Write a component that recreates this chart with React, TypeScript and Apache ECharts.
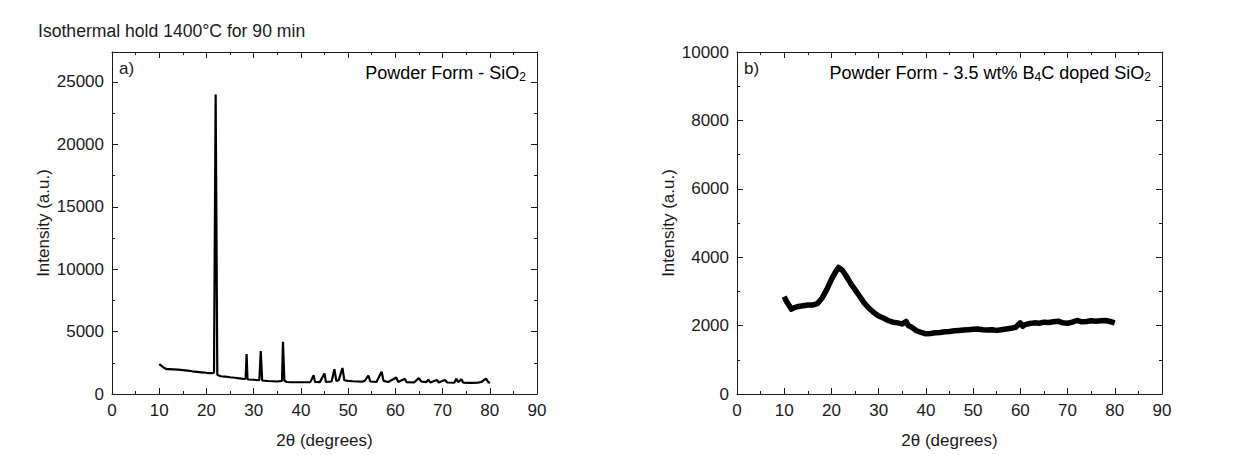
import React, { useEffect, useRef } from "react";
import * as echarts from "echarts";

const titleText = "Isothermal hold 1400°C for 90 min";
const xTicks = [0, 10, 20, 30, 40, 50, 60, 70, 80, 90];

// Panel a) SiO2 powder
const sio2Theta = [10, 10.5, 11, 11.5, 12, 13, 14, 15, 16, 17, 18, 19, 20, 21, 21.6, 21.95, 22.3, 23, 24, 25, 26, 27, 28, 28.3, 28.5, 28.7, 29, 30, 31.2, 31.5, 31.8, 33, 35, 36.0, 36.2, 36.5, 37, 38, 40, 42, 42.7, 43, 44, 45, 45.3, 46.5, 47.1, 47.5, 48, 48.8, 49.2, 50, 51, 52, 53, 53.5, 54.3, 54.7, 56, 57.1, 57.5, 58.5, 60.2, 60.6, 62, 62.4, 64, 65, 65.5, 66.5, 67, 67.4, 68.8, 69.2, 70.5, 71, 72.5, 72.9, 73.3, 74, 74.4, 76, 77.5, 78.2, 79.2, 79.6, 80];
const sio2Intensity = [2400, 2250, 2100, 2000, 2000, 1980, 1950, 1920, 1870, 1820, 1780, 1740, 1700, 1680, 1700, 24000, 1550, 1420, 1390, 1340, 1300, 1250, 1200, 1230, 3200, 1180, 1160, 1140, 1100, 3450, 1080, 1040, 1000, 1050, 4180, 1080, 960, 940, 940, 950, 1500, 960, 950, 1650, 960, 1000, 1980, 1050, 1100, 2080, 1100, 1050, 1020, 1000, 990, 1050, 1480, 1000, 960, 1780, 1050, 960, 1320, 960, 1230, 940, 930, 1280, 1000, 950, 1150, 920, 1120, 920, 1120, 920, 900, 1220, 960, 1170, 900, 890, 910, 960, 1230, 1000, 880];

// Panel b) 3.5 wt% B4C doped SiO2 powder
const b4cTheta = [10, 10.5, 11, 11.5, 12, 13, 14, 15, 16, 17, 18, 19, 20, 21, 21.5, 22.3, 23, 24, 25, 26, 27, 28, 29, 30, 31, 32, 33, 34, 35, 35.8, 36.3, 37, 38, 39, 40, 41, 42, 43, 44, 45, 46, 47, 48, 49, 50, 51, 52, 53, 54, 55, 56, 57, 58, 59, 60, 60.5, 61, 62, 63, 64, 65, 66, 67, 68, 69, 70, 71, 72, 73, 74, 75, 76, 77, 78, 79, 80];
const b4cIntensity = [2850, 2700, 2600, 2480, 2520, 2560, 2580, 2600, 2600, 2640, 2800, 3050, 3350, 3600, 3700, 3620, 3480, 3250, 3050, 2850, 2650, 2500, 2380, 2280, 2220, 2150, 2100, 2080, 2050, 2120, 2000, 1950, 1850, 1800, 1760, 1770, 1790, 1800, 1820, 1830, 1850, 1860, 1870, 1880, 1890, 1900, 1880, 1870, 1880, 1860, 1880, 1900, 1920, 1950, 2080, 1980, 2030, 2060, 2080, 2070, 2100, 2090, 2110, 2130, 2080, 2070, 2100, 2150, 2110, 2120, 2140, 2130, 2140, 2150, 2120, 2080];

const FONT = "Liberation Sans, Arial, sans-serif";
const INK = "#1a1a1a";

function xAxisDef(gridIndex: number, top: boolean) {
  return {
    type: "value",
    gridIndex,
    position: top ? "top" : "bottom",
    min: xTicks[0],
    max: xTicks[xTicks.length - 1],
    interval: 10,
    name: top ? "" : "2θ (degrees)",
    nameLocation: "middle",
    nameGap: 38,
    nameTextStyle: { fontFamily: FONT, fontSize: 17, color: INK },
    axisLine: { show: true, onZero: false, lineStyle: { color: INK, width: 1 } },
    axisTick: { show: true, inside: true, length: 6, lineStyle: { color: INK } },
    minorTick: { show: true, splitNumber: 2, length: 3, lineStyle: { color: INK } },
    axisLabel: { show: !top, fontFamily: FONT, fontSize: 17, color: INK, margin: 8 },
    splitLine: { show: false },
  };
}

function yAxisDef(gridIndex: number, right: boolean, max: number, interval: number) {
  return {
    type: "value",
    gridIndex,
    position: right ? "right" : "left",
    min: 0,
    max,
    interval,
    name: right ? "" : "Intensity (a.u.)",
    nameLocation: "middle",
    nameGap: 60,
    nameTextStyle: { fontFamily: FONT, fontSize: 17, color: INK },
    axisLine: { show: true, onZero: false, lineStyle: { color: INK, width: 1 } },
    axisTick: { show: true, inside: true, length: 6, lineStyle: { color: INK } },
    minorTick: { show: true, splitNumber: 2, length: 3, lineStyle: { color: INK } },
    axisLabel: {
      show: !right,
      fontFamily: FONT,
      fontSize: 17,
      color: INK,
      margin: 8,
      formatter: (v: number) => (v % interval === 0 ? String(v) : ""),
    },
    splitLine: { show: false },
  };
}

const subRich = {
  m: { fontFamily: FONT, fontSize: 18, color: INK, lineHeight: 20, verticalAlign: "middle" },
  s: { fontFamily: FONT, fontSize: 12, color: INK, lineHeight: 20, verticalAlign: "bottom", padding: [9, 0, 0, 0] },
};

export default function App() {
  const ref = useRef<HTMLDivElement>(null);
  useEffect(() => {
    if (!ref.current) return;
    const chart = echarts.init(ref.current, undefined, { renderer: "svg" });
    chart.setOption({
      animation: false,
      backgroundColor: "#ffffff",
      grid: [
        { left: 112, top: 52, width: 425, height: 342 },
        { left: 737, top: 52, width: 425, height: 342 },
      ],
      xAxis: [xAxisDef(0, false), xAxisDef(0, true), xAxisDef(1, false), xAxisDef(1, true)],
      yAxis: [
        yAxisDef(0, false, 27400, 5000),
        yAxisDef(0, true, 27400, 5000),
        yAxisDef(1, false, 10000, 2000),
        yAxisDef(1, true, 10000, 2000),
      ],
      series: [
        {
          type: "line",
          xAxisIndex: 0,
          yAxisIndex: 0,
          data: sio2Theta.map((x, i) => [x, sio2Intensity[i]]),
          showSymbol: false,
          lineStyle: { color: "#000", width: 2.2 },
        },
        {
          type: "line",
          xAxisIndex: 2,
          yAxisIndex: 2,
          data: b4cTheta.map((x, i) => [x, b4cIntensity[i]]),
          showSymbol: false,
          lineStyle: { color: "#000", width: 5.5, join: "round" },
        },
      ],
      graphic: [
        {
          type: "text",
          left: 38,
          top: 22,
          style: { text: titleText, font: `17.6px ${FONT}`, fill: INK },
        },
        {
          type: "text",
          left: 119,
          top: 60,
          style: { text: "a)", font: `17px ${FONT}`, fill: INK },
        },
        {
          type: "text",
          left: 744,
          top: 60,
          style: { text: "b)", font: `17px ${FONT}`, fill: INK },
        },
        {
          type: "text",
          right: 1238 - 526,
          top: 62,
          style: { text: "{m|Powder Form - SiO}{s|2}", rich: subRich },
        },
        {
          type: "text",
          right: 1238 - 1151,
          top: 62,
          style: { text: "{m|Powder Form - 3.5 wt% B}{s|4}{m|C doped SiO}{s|2}", rich: subRich },
        },
      ],
    });
    return () => chart.dispose();
  }, []);
  return (
    <div
      ref={ref}
      style={{ position: "fixed", left: 0, top: 0, width: 1238, height: 455, background: "#fff" }}
    />
  );
}
